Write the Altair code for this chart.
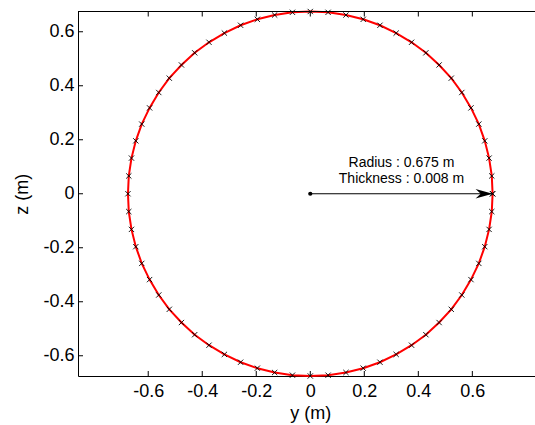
import altair as alt
import pandas as pd

# Mesh nodes on the ring (y, z in m)
node_y = [0.675, 0.672, 0.662, 0.646, 0.624, 0.595, 0.561, 0.522, 0.477, 0.428, 0.375, 0.318, 0.258, 0.196, 0.132, 0.066, 0.0,
          -0.066, -0.132, -0.196, -0.258, -0.318, -0.375, -0.428, -0.477, -0.522, -0.561, -0.595, -0.624, -0.646, -0.662, -0.672, -0.675,
          -0.672, -0.662, -0.646, -0.624, -0.595, -0.561, -0.522, -0.477, -0.428, -0.375, -0.318, -0.258, -0.196, -0.132, -0.066, 0.0,
          0.066, 0.132, 0.196, 0.258, 0.318, 0.375, 0.428, 0.477, 0.522, 0.561, 0.595, 0.624, 0.646, 0.662, 0.672, 0.675]
node_z = [0.0, 0.066, 0.132, 0.196, 0.258, 0.318, 0.375, 0.428, 0.477, 0.522, 0.561, 0.595, 0.624, 0.646, 0.662, 0.672, 0.675,
          0.672, 0.662, 0.646, 0.624, 0.595, 0.561, 0.522, 0.477, 0.428, 0.375, 0.318, 0.258, 0.196, 0.132, 0.066, 0.0,
          -0.066, -0.132, -0.196, -0.258, -0.318, -0.375, -0.428, -0.477, -0.522, -0.561, -0.595, -0.624, -0.646, -0.662, -0.672, -0.675,
          -0.672, -0.662, -0.646, -0.624, -0.595, -0.561, -0.522, -0.477, -0.428, -0.375, -0.318, -0.258, -0.196, -0.132, -0.066, 0.0]
tick_values = [-0.6, -0.4, -0.2, 0.0, 0.2, 0.4, 0.6]
center_y = [0.0]
center_z = [0.0]
radius = [0.675]
annotation = ["Radius : 0.675 m\nThickness : 0.008 m"]

FONT = "Liberation Sans"
W, H = 457, 364.5
xs = alt.Scale(domain=[-0.86, 0.832], nice=False, zero=False)
ys = alt.Scale(domain=[-0.675, 0.675], nice=False, zero=False)

nodes = pd.DataFrame({"y": node_y, "z": node_z, "k": list(range(len(node_y)))})
ticks_df = pd.DataFrame({"v": tick_values})
arrow_df = pd.DataFrame({"y0": center_y, "z0": center_z, "y1": radius, "z1": [0.0],
                         "mid": [r / 2 for r in radius], "label": annotation})

label_expr = "datum.value == 0 ? '0' : (datum.value < 0 ? '-' : '') + format(abs(datum.value), '.1f')"

xaxis = alt.Axis(orient="bottom", values=tick_values, labelExpr=label_expr, ticks=False, grid=False,
                 domainColor="black", domainWidth=1, labelFont=FONT, labelFontSize=18,
                 labelColor="black", labelPadding=6, title="y (m)", titleFont=FONT, titleFontSize=18,
                 titleFontWeight="normal", titleColor="black", titleAlign="center",
                 titleBaseline="middle", titleX=232.3, titleY=37)
yaxis = alt.Axis(orient="left", values=tick_values, labelExpr=label_expr, ticks=False, grid=False,
                 domainColor="black", domainWidth=1, labelFont=FONT, labelFontSize=18,
                 labelColor="black", labelPadding=4, title="z (m)", titleFont=FONT, titleFontSize=18,
                 titleFontWeight="normal", titleColor="black", titleAlign="center",
                 titleBaseline="middle", titleAngle=270, titleX=-56, titleY=H / 2)

ring = alt.Chart(nodes).mark_line(color="#ff0000", strokeWidth=2).encode(
    x=alt.X("y:Q", scale=xs, axis=xaxis),
    y=alt.Y("z:Q", scale=ys, axis=yaxis),
    order=alt.Order("k:Q"),
)

left_ticks = alt.Chart(ticks_df).mark_rule(color="black", strokeWidth=1).encode(
    y=alt.Y("v:Q", scale=ys, axis=None),
    x=alt.value(0), x2=alt.value(5),
)
bottom_ticks = alt.Chart(ticks_df).mark_rule(color="black", strokeWidth=1).encode(
    x=alt.X("v:Q", scale=xs, axis=None),
    y=alt.value(H), y2=alt.value(H - 5),
)
top_ticks = alt.Chart(ticks_df).mark_rule(color="black", strokeWidth=1).encode(
    x=alt.X("v:Q", scale=xs, axis=None),
    y=alt.value(0), y2=alt.value(5),
)
# top frame line of the box
top_frame = alt.Chart(ticks_df.head(1)).mark_rule(color="black", strokeWidth=1).encode(
    x=alt.value(0), x2=alt.value(W), y=alt.value(0),
)

markers = alt.Chart(nodes).mark_point(
    shape="M-1,-1L1,1M-1,1L1,-1", size=28, color="black", strokeWidth=0.9, filled=False, opacity=1
).encode(
    x=alt.X("y:Q", scale=xs, axis=None),
    y=alt.Y("z:Q", scale=ys, axis=None),
)

shaft = alt.Chart(arrow_df).mark_rule(color="black", strokeWidth=1.2).encode(
    x=alt.X("y0:Q", scale=xs, axis=None), x2="y1:Q",
    y=alt.Y("z0:Q", scale=ys, axis=None),
)
head = alt.Chart(arrow_df).mark_point(
    shape="M0,0L-2,-0.57L-1.4,0L-2,0.57Z", size=289, filled=True, color="black", opacity=1, strokeWidth=0
).encode(
    x=alt.X("y1:Q", scale=xs, axis=None),
    y=alt.Y("z1:Q", scale=ys, axis=None),
)
dot = alt.Chart(arrow_df).mark_point(shape="circle", size=18, filled=True, color="black", opacity=1).encode(
    x=alt.X("y0:Q", scale=xs, axis=None),
    y=alt.Y("z0:Q", scale=ys, axis=None),
)
text = alt.Chart(arrow_df).mark_text(
    font=FONT, fontSize=14, color="black", align="center", baseline="alphabetic",
    dy=-27, lineBreak="\n", lineHeight=16.7
).encode(
    x=alt.X("mid:Q", scale=xs, axis=None),
    y=alt.Y("z0:Q", scale=ys, axis=None),
    text="label:N",
)

chart = alt.layer(ring, left_ticks, bottom_ticks, top_ticks, top_frame, markers, shaft, head, dot, text).properties(
    width=W, height=H,
    autosize=alt.AutoSizeParams(type="none"),
    padding={"left": 78, "top": 11.5, "right": 0, "bottom": 48},
    background="white",
).resolve_axis(x="independent", y="independent").configure_view(stroke="transparent")

chart.save("out.html", embed_options={"renderer": "svg", "actions": False})
